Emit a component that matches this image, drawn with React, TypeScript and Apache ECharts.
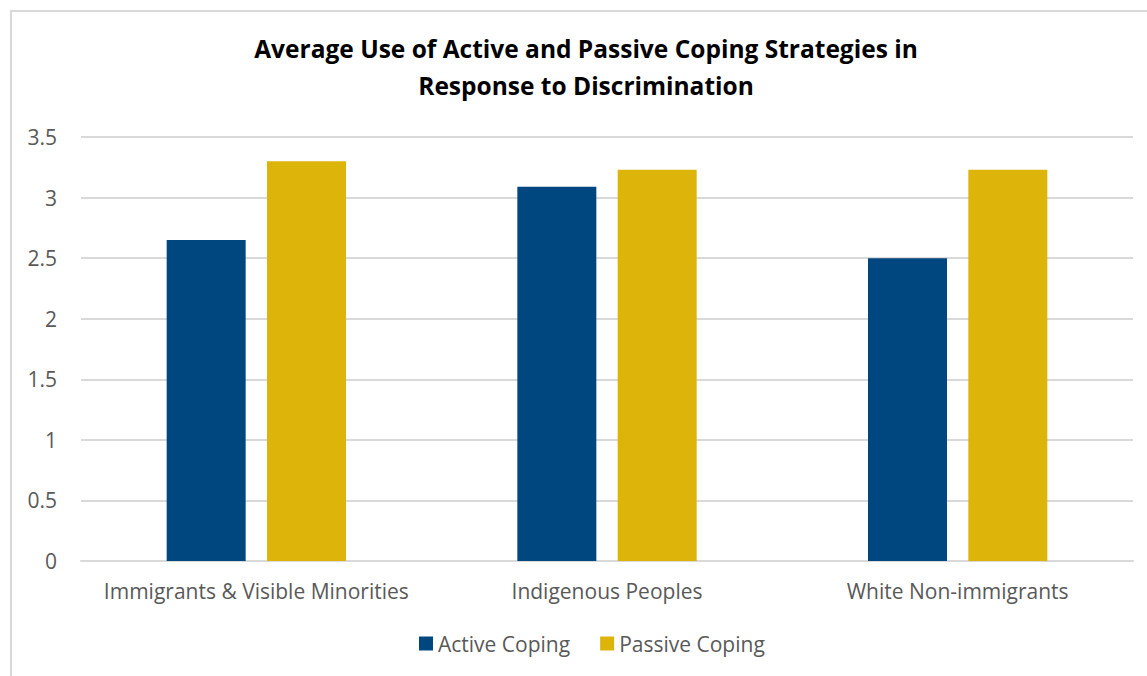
import React, { useEffect, useRef } from "react";
import * as echarts from "echarts";

const categories = ["Immigrants & Visible Minorities", "Indigenous Peoples", "White Non-immigrants"];
const activeCoping = [2.65, 3.09, 2.5];
const passiveCoping = [3.3, 3.23, 3.23];
const titleText = "Average Use of Active and Passive Coping Strategies in\nResponse to Discrimination";

export default function App() {
  const ref = useRef<HTMLDivElement>(null);
  useEffect(() => {
    const chart = echarts.init(ref.current!, null, { renderer: "svg" });
    const font = "'Open Sans', sans-serif";
    chart.setOption({
      animation: false,
      backgroundColor: "#ffffff",
      textStyle: { fontFamily: font },
      graphic: [
        {
          type: "rect",
          shape: { x: 11, y: 11, width: 1300, height: 800 },
          style: { fill: "none", stroke: "#d9d9d9", lineWidth: 2 },
          silent: true,
        },
      ],
      title: {
        text: titleText,
        left: 581,
        textAlign: "center",
        top: 25,
        textStyle: { fontFamily: font, fontSize: 24.5, fontWeight: "bold", color: "#000000", lineHeight: 37 },
      },
      legend: {
        bottom: 17,
        left: 414,
        itemWidth: 14,
        itemHeight: 14,
        itemGap: 30,
        icon: "rect",
        textStyle: { fontFamily: font, fontSize: 21, color: "#595959" },
        data: ["Active Coping", "Passive Coping"],
      },
      grid: { left: 81, right: 14, top: 137, bottom: 115 },
      xAxis: {
        type: "category",
        data: categories,
        axisLine: { lineStyle: { color: "#d9d9d9", width: 2 } },
        axisTick: { show: false },
        axisLabel: { fontFamily: font, fontSize: 21, color: "#595959", margin: 19, interval: 0 },
      },
      yAxis: {
        type: "value",
        min: 0,
        max: 3.5,
        interval: 0.5,
        axisLine: { show: false },
        axisTick: { show: false },
        splitLine: { lineStyle: { color: "#d9d9d9", width: 2 } },
        axisLabel: { fontFamily: font, fontSize: 21, color: "#595959", margin: 24 },
      },
      series: [
        {
          name: "Active Coping",
          type: "bar",
          data: activeCoping,
          barWidth: 79,
          barGap: "27%",
          itemStyle: { color: "#00467f" },
        },
        {
          name: "Passive Coping",
          type: "bar",
          data: passiveCoping,
          barWidth: 79,
          barGap: "27%",
          itemStyle: { color: "#ddb40a" },
        },
      ],
    });
    return () => chart.dispose();
  }, []);
  return <div ref={ref} style={{ position: "fixed", left: 0, top: 0, width: 1147, height: 676 }} />;
}
